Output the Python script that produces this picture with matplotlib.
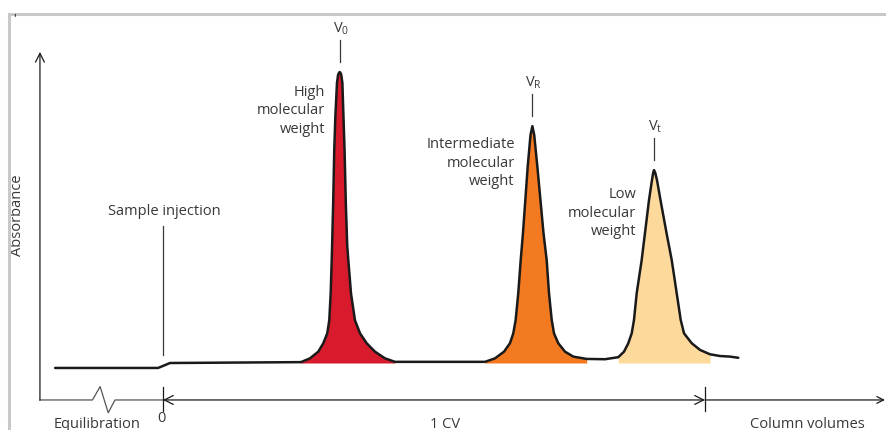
import matplotlib
matplotlib.use('Agg')
import matplotlib.pyplot as plt
import numpy as np

# chromatogram trace: column volumes vs absorbance (V0 apex = 1)
cv = [-0.199, -0.009, 0.013, 0.253,
      # high MW peak (V0)
      0.2559, 0.2712, 0.2865, 0.2958, 0.3031, 0.3068, 0.3094, 0.3113, 0.3120, 0.3140, 0.3160,
      0.3180, 0.3210, 0.3230, 0.3247, 0.3260, 0.3275, 0.3290, 0.3310, 0.3330, 0.3350, 0.3373,
      0.3400, 0.3419, 0.3469, 0.3542, 0.3635, 0.3758, 0.3911, 0.4096, 0.4280,
      # intermediate MW peak (VR)
      0.5941, 0.6125, 0.6292, 0.6402, 0.6463, 0.6507, 0.6555, 0.6600, 0.6642, 0.6729, 0.6781,
      0.6815, 0.6849, 0.6907, 0.7020, 0.7079, 0.7122, 0.7172, 0.7214, 0.7293, 0.7417, 0.7570,
      0.7817, 0.8155,
      # low MW peak (Vt)
      0.8400, 0.8506, 0.8585, 0.8648, 0.8690, 0.8740, 0.8832, 0.8893, 0.8967, 0.9022, 0.9044,
      0.9059, 0.9083, 0.9114, 0.9179, 0.9290, 0.9386, 0.9478, 0.9552, 0.9613, 0.9755, 0.9908,
      1.0092, 1.0277, 1.0461, 1.0614]
absorbance = [-0.017, -0.017, 0.000, 0.003,
              0.004, 0.016, 0.039, 0.068, 0.102, 0.147, 0.239, 0.354, 0.400, 0.550, 0.732,
              0.846, 0.962, 0.990, 0.997, 1.000, 0.997, 0.990, 0.962, 0.846, 0.732, 0.550,
              0.400, 0.354, 0.239, 0.147, 0.102, 0.068, 0.039, 0.016, 0.004,
              0.004, 0.016, 0.039, 0.068, 0.102, 0.148, 0.240, 0.354, 0.447, 0.675, 0.784,
              0.814, 0.784, 0.675, 0.447, 0.354, 0.240, 0.148, 0.102, 0.068, 0.039, 0.022,
              0.014, 0.013,
              0.020, 0.039, 0.068, 0.102, 0.148, 0.240, 0.354, 0.447, 0.560, 0.629, 0.653,
              0.663, 0.653, 0.629, 0.560, 0.447, 0.354, 0.240, 0.148, 0.102, 0.068, 0.045,
              0.030, 0.024, 0.022, 0.018]

peak_names = ['High\nmolecular\nweight', 'Intermediate\nmolecular\nweight', 'Low\nmolecular\nweight']
peak_marks = ['V$_\\mathrm{0}$', 'V$_\\mathrm{R}$', 'V$_\\mathrm{t}$']
peak_ranges = [(0.253, 0.428), (0.594, 0.782), (0.8400, 1.0092)]
peak_colors = ['#d71a2c', '#f47a21', '#fdd99c']
name_pos = [(0.299, 0.866), (0.649, 0.687), (0.873, 0.515)]

TXT = '#383838'
FS = 10.5
plt.rcParams['font.family'] = ['Open Sans', 'DejaVu Sans']
plt.rcParams['mathtext.fontset'] = 'custom'
plt.rcParams['mathtext.rm'] = 'Open Sans'

fig = plt.figure(figsize=(8.87, 4.30), dpi=100)
ax = fig.add_axes([0, 0, 1, 1])
ax.set_xlim(-0.3007, 1.3358)
ax.set_ylim(-0.2302, 1.2474)
ax.axis('off')

x = np.array(cv); y = np.array(absorbance)

# coloured peaks
for (lo, hi), col in zip(peak_ranges, peak_colors):
    m = (x >= lo) & (x <= hi)
    ax.fill_between(x[m], y[m], 0.0, color=col, linewidth=0)
ax.plot(x, y, color='#1a1a1a', linewidth=1.8, solid_joinstyle='round', solid_capstyle='round')

# peak labels
for (lo, hi), name, mark, (nx, ny) in zip(peak_ranges, peak_names, peak_marks, name_pos):
    m = (x >= lo) & (x <= hi)
    i = y[m].argmax()
    px, py = x[m][i], y[m][i]
    ax.plot([px, px], [py + 0.035, py + 0.11], color=TXT, linewidth=0.9)
    ax.text(px + 0.002, py + 0.15, mark, ha='center', va='center', fontsize=FS, color=TXT)
    ax.text(nx, ny, name, ha='right', va='center', fontsize=FS, color=TXT, linespacing=1.35)

# sample injection
ax.plot([0, 0], [0.027, 0.471], color=TXT, linewidth=0.9)
ax.text(0.002, 0.519, 'Sample injection', ha='center', va='center', fontsize=FS, color=TXT)

# y axis with arrow
ax.annotate('', xy=(-0.227, 1.069), xytext=(-0.227, -0.128),
            arrowprops=dict(arrowstyle='->', color='#1a1a1a', lw=0.9, mutation_scale=16, shrinkA=0, shrinkB=0))
ax.text(-0.2675, 0.509, 'Absorbance', rotation=90, ha='center', va='center', fontsize=FS, color=TXT)

# x axis: equilibration with break, then 1 CV span, then column volumes
ax.plot([-0.227, -0.130, -0.116, -0.101, -0.0886, 0.0],
        [-0.127, -0.127, -0.081, -0.171, -0.127, -0.127], color='#555555', linewidth=0.9)
ax.annotate('', xy=(0.0, -0.127), xytext=(1.0, -0.127),
            arrowprops=dict(arrowstyle='<->', color='#1a1a1a', lw=0.9, mutation_scale=16, shrinkA=0, shrinkB=0))
ax.annotate('', xy=(1.332, -0.127), xytext=(1.0, -0.127),
            arrowprops=dict(arrowstyle='->', color='#1a1a1a', lw=0.9, mutation_scale=12, shrinkA=0, shrinkB=0))
for t in [0.0, 1.0]:
    ax.plot([t, t], [-0.082, -0.164], color='#1a1a1a', linewidth=0.9)

ax.text(-0.002, -0.192, '0', ha='center', va='center', fontsize=FS, color=TXT)
ax.text(-0.122, -0.184, 'Equilibration', ha='center', va='top', fontsize=FS, color=TXT)
ax.text(0.520, -0.184, '1 CV', ha='center', va='top', fontsize=FS, color=TXT)
ax.text(1.188, -0.184, 'Column volumes', ha='center', va='top', fontsize=FS, color=TXT)

# gray frame on top and left
fig.add_artist(plt.Line2D([0.0101, 1.0], [0.967, 0.967], color='#c8c8c8', linewidth=2.2))
fig.add_artist(plt.Line2D([0.0101, 0.0101], [0.0, 0.967], color='#c8c8c8', linewidth=2.2))
fig.text(0.016, 0.955, "'", fontsize=9, color='#1a1a1a', ha='center', va='center')

fig.savefig('out.png', dpi=100)
